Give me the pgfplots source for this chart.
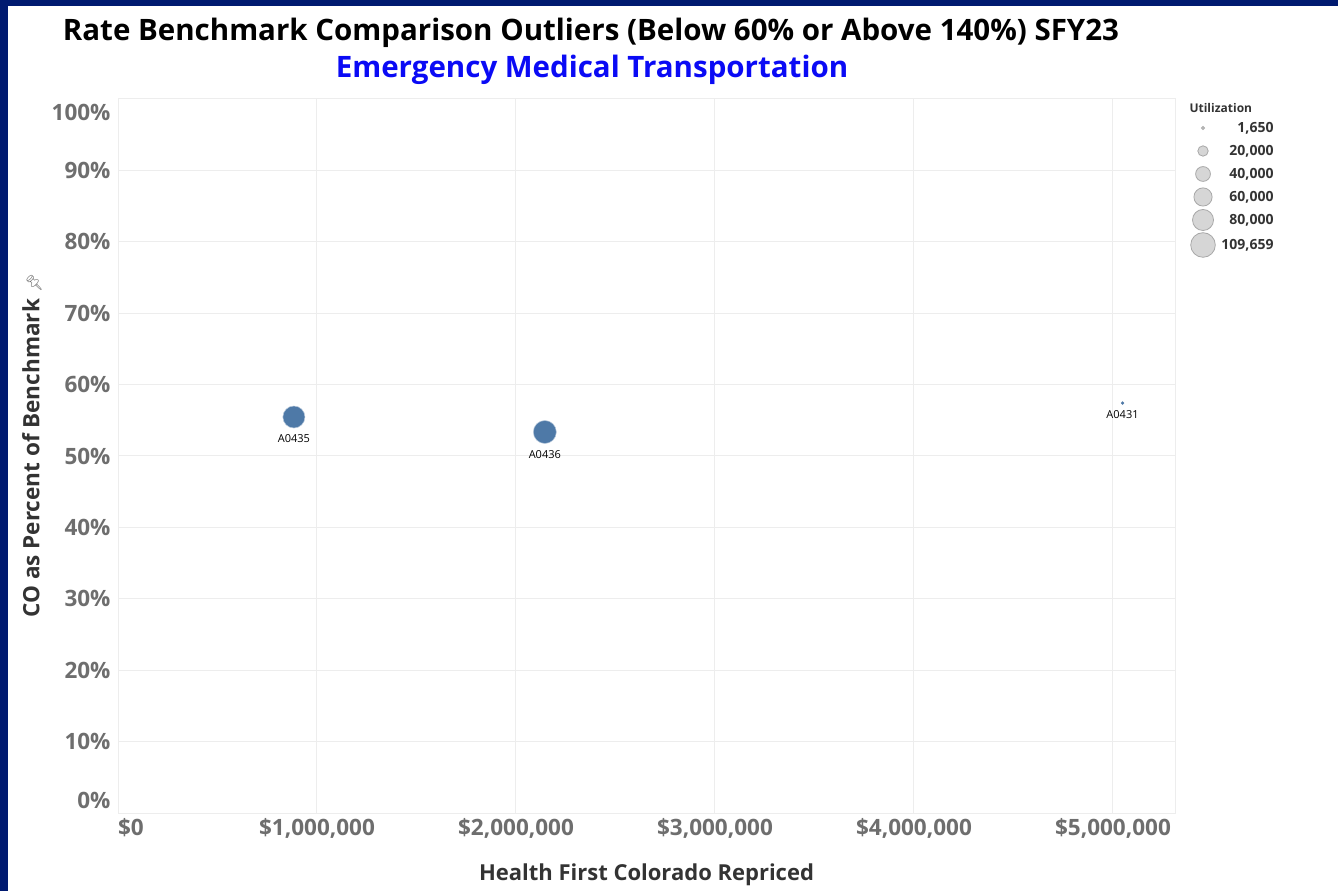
\documentclass[border=0pt]{standalone}
\usepackage{fontspec}
\setmainfont{Open Sans}
\newfontfamily\emoji{Noto Emoji}
\usepackage{pgfplots}
\pgfplotsset{compat=1.18}
\definecolor{navy}{HTML}{001A70}
\definecolor{bubble}{HTML}{4E79A7}
\definecolor{gridc}{HTML}{EDEDED}
\definecolor{tickc}{HTML}{6E6E6E}
\definecolor{labc}{HTML}{333333}
\definecolor{legfill}{HTML}{D6D6D6}
\definecolor{legdraw}{HTML}{A8A8A8}
\definecolor{subblue}{HTML}{0A0AF5}

% utilization (thousands) -> bubble radius (area-proportional, 109.659 -> 12.3)
\pgfmathsetmacro\ra{sqrt(88/109.659)*12.3}
\pgfmathsetmacro\rb{sqrt(96/109.659)*12.3}
\pgfmathsetmacro\rc{sqrt(1.65/109.659)*12.3}

\pgfplotsset{bub/.style={only marks, mark=*, mark size=#1,
  mark options={draw=white!60!bubble, fill=bubble, line width=0.5pt},
  nodes near coords style={anchor=north, yshift={-(#1+3)*1pt}, font=\fontsize{11}{12}\selectfont, text=black}}}

\begin{document}
\begin{tikzpicture}
\useasboundingbox (0pt,0pt) rectangle (1338pt,891pt);
\fill[navy] (0pt,0pt) rectangle (1338pt,891pt);
\fill[white] (8pt,0pt) rectangle (1338pt,885pt);
\node[font=\bfseries\fontsize{29.5}{31}\selectfont, text=black] at (591pt,858pt) {Rate Benchmark Comparison Outliers (Below 60\% or Above 140\%) SFY23};
\node[font=\bfseries\fontsize{29.5}{31}\selectfont, text=subblue] at (592pt,821pt) {Emergency Medical Transportation};
\begin{axis}[
  at={(118pt,78pt)}, anchor=south west, scale only axis,
  width=1057pt, height=714pt,
  xmin=0, xmax=5.312, ymin=0, ymax=100,
  axis line style={draw=gridc, line width=1pt},
  grid=major, major grid style={draw=gridc, line width=1pt},
  tick style={draw=none},
  xtick={0,1,2,3,4,5},
  xticklabels={\makebox[0pt][l]{\$0},\$1{,}000{,}000,\$2{,}000{,}000,\$3{,}000{,}000,\$4{,}000{,}000,\$5{,}000{,}000},
  ytick={0,10,...,100},
  yticklabels={\raisebox{13pt}[\height][\depth]{0\%},10\%,20\%,30\%,40\%,50\%,60\%,70\%,80\%,90\%,\raisebox{-13pt}[\height][\depth]{100\%}},
  ticklabel style={font=\bfseries\fontsize{22.5}{24}\selectfont, text=tickc},
  xticklabel style={yshift=-2pt},
  yticklabel style={xshift=-4pt},
  xlabel={Health First Colorado Repriced},
  xlabel style={at={(rel axis cs:0.5,-0.087)}, anchor=center, font=\bfseries\fontsize{22}{24}\selectfont, text=labc},
  ylabel={CO as Percent of Benchmark\hspace{7pt}{\emoji\fontsize{15}{16}\selectfont\color{tickc}📌}},
  ylabel style={at={(rel axis cs:-0.0814,0.515)}, anchor=center, font=\bfseries\fontsize{22.5}{24}\selectfont, text=labc},
  clip=false,
]
% x in $ millions, y in percent
\addplot[bub=\ra, nodes near coords={A0435}] coordinates {(0.884,55.46)};
\addplot[bub=\rb, nodes near coords={A0436}] coordinates {(2.145,53.36)};
\addplot[bub=\rc, mark options={draw=bubble, fill=bubble, line width=0.3pt}, nodes near coords={A0431}] coordinates {(5.048,57.42)};
\end{axis}
% size legend
\node[anchor=west, font=\bfseries\fontsize{12}{13}\selectfont, text=labc] at (1186pt,783pt) {Utilization};
\foreach \yy/\rr/\tt in {763/1.5/{1,650}, 740/5.2/{20,000}, 717/7.4/{40,000}, 694/9.1/{60,000}, 671/10.5/{80,000}, 646/12.3/{109,659}} {
  \fill[legfill, draw=legdraw, line width=0.8pt] (1203pt,\yy pt) circle (\rr pt);
  \node[anchor=east, font=\bfseries\fontsize{14}{15}\selectfont, text=labc] at (1277pt,\yy pt) {\tt};
}
\end{tikzpicture}
\end{document}
